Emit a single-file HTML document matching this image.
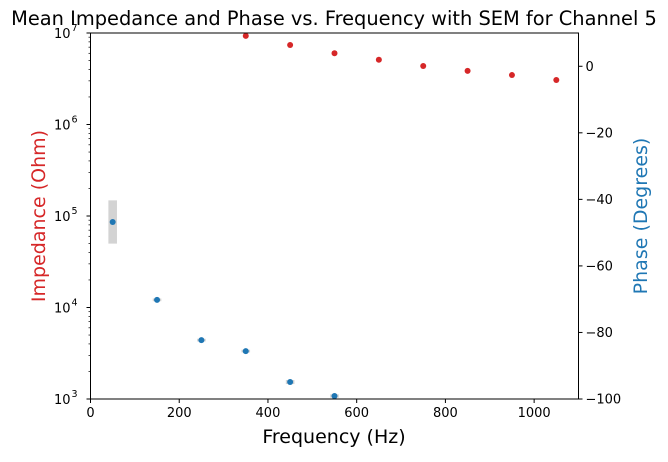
<!DOCTYPE html>
<html><head><meta charset="utf-8"><style>
body{margin:0;background:#fff;}
svg{font-family:"DejaVu Sans","Liberation Sans",sans-serif;}
</style></head><body>
<svg id="chart" width="668" height="457" viewBox="0 0 668 457" xmlns="http://www.w3.org/2000/svg">
<text x="334" y="25" text-anchor="middle" font-size="19.4">Mean Impedance and Phase vs. Frequency with SEM for Channel 5</text>
<g id="marks"></g>
<g id="axes"></g>
<text x="334" y="443" text-anchor="middle" font-size="19">Frequency (Hz)</text>
<text transform="translate(45,216) rotate(-90)" text-anchor="middle" font-size="19" fill="#d62728">Impedance (Ohm)</text>
<text transform="translate(647,216) rotate(-90)" text-anchor="middle" font-size="19" fill="#1f77b4">Phase (Degrees)</text>
</svg>
<script>
const impFreq=[350,450,550,650,750,850,950,1050];
const impVals=[9.3e6,7.4e6,6.0e6,5.1e6,4.36e6,3.85e6,3.47e6,3.06e6];
const phaseFreq=[50,150,250,350,450,550];
const phaseVals=[-46.8,-70.2,-82.3,-85.6,-94.9,-99.1];
const phaseSem=[6.5,0.4,0.4,0.4,0.6,0.5];
const xTicks=[0,200,400,600,800,1000];
const logTicks=[3,4,5,6,7];
const phaseTicks=[0,-20,-40,-60,-80,-100];

const L=90.5,R=578.5,T=33,B=399;
const xs=v=>L+(v/1100)*(R-L);
const yLog=v=>B-(Math.log10(v)-3)/4*(B-T);
const yPh=v=>B-(v+100)/110*(B-T);
const NS="http://www.w3.org/2000/svg";
function mk(tag,attrs,parent){const e=document.createElementNS(NS,tag);for(const k in attrs)e.setAttribute(k,attrs[k]);parent.appendChild(e);return e;}
const marks=document.getElementById('marks'),axes=document.getElementById('axes');

phaseFreq.forEach((f,i)=>{
  const y1=yPh(phaseVals[i]+phaseSem[i]),y2=yPh(phaseVals[i]-phaseSem[i]);
  const r=mk('rect',{x:xs(f)-4.3,y:y1,width:8.6,height:Math.max(y2-y1,1),fill:'#d3d3d3'},marks);
  
  
});
impFreq.forEach((f,i)=>{
  const c=mk('circle',{cx:xs(f),cy:yLog(impVals[i]),r:3,fill:'#d62728'},marks);
  
  
});
phaseFreq.forEach((f,i)=>{
  const c=mk('circle',{cx:xs(f),cy:yPh(phaseVals[i]),r:3,fill:'#1f77b4'},marks);
  
  
});

const frame=mk('rect',{x:L,y:T,width:R-L,height:B-T,fill:'none',stroke:'#000','stroke-width':1},axes);



xTicks.forEach(t=>{
  const x=xs(t);
  mk('line',{x1:x,y1:B,x2:x,y2:B+4,stroke:'#000'},axes);
  const tx=mk('text',{x:x,y:B+18,'text-anchor':'middle','font-size':13},axes);
  tx.textContent=t;
  
  
});
logTicks.forEach(p=>{
  const y=yLog(Math.pow(10,p));
  mk('line',{x1:L-4,y1:y,x2:L,y2:y,stroke:'#000'},axes);
  const tx=mk('text',{x:L-20,y:y+5,'text-anchor':'end','font-size':13},axes);
  tx.textContent='10';
  
  
  const sup=mk('text',{x:L-19,y:y-2,'text-anchor':'start','font-size':9.5},axes);
  sup.textContent=p;
  if(p<7){for(let m=2;m<10;m++){const ym=yLog(m*Math.pow(10,p));mk('line',{x1:L-2,y1:ym,x2:L,y2:ym,stroke:'#000','stroke-width':0.7},axes);}}
});
phaseTicks.forEach(t=>{
  const y=yPh(t);
  mk('line',{x1:R,y1:y,x2:R+4,y2:y,stroke:'#000'},axes);
  const tx=mk('text',{x:R+7,y:y+4.5,'text-anchor':'start','font-size':13},axes);
  tx.textContent=t===0?'0':'\u2212'+Math.abs(t);
  
  
});
</script>
</body></html>
